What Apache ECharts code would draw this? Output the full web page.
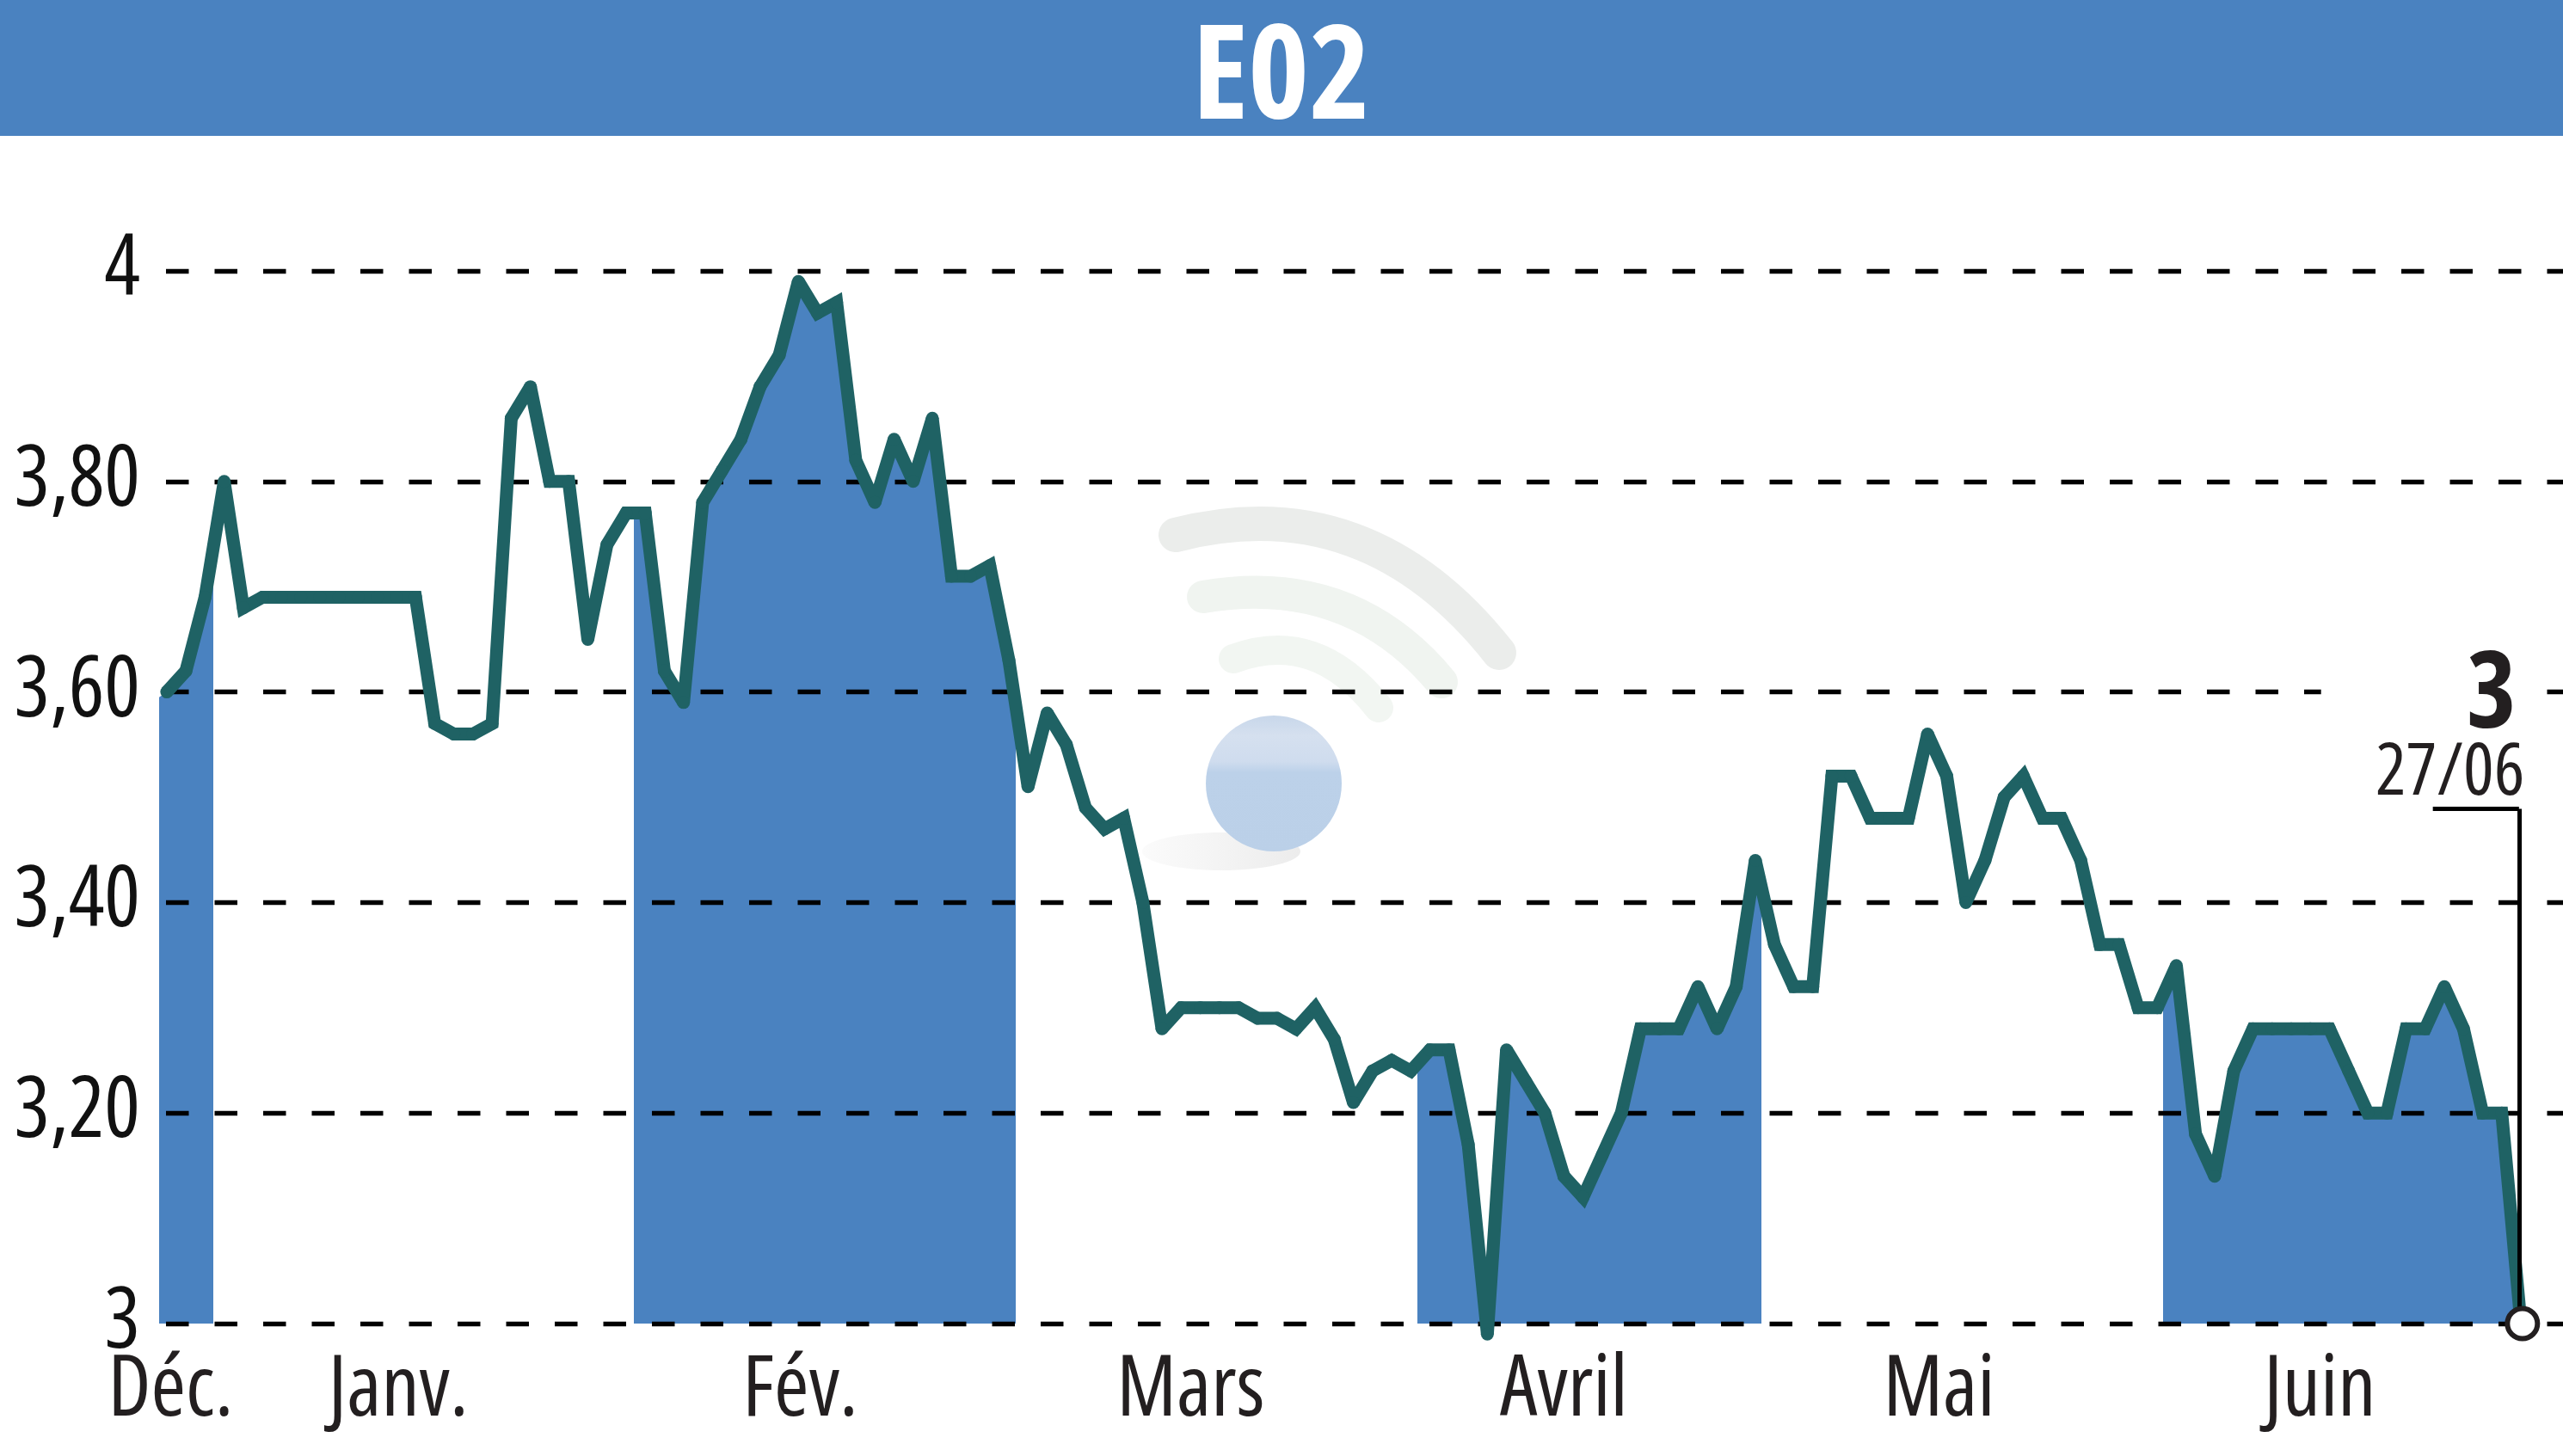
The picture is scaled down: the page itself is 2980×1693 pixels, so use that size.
<!DOCTYPE html>
<html>
<head>
<meta charset="utf-8">
<title>E02</title>
<style>
  html, body { margin: 0; padding: 0; background: #fff; }
  #chart { width: 2980px; height: 1693px; }
</style>
<script src="https://cdn.jsdelivr.net/npm/echarts@6/dist/echarts.min.js"></script>
</head>
<body>
<div id="chart"></div>
<script>
const chartTitle = 'E02';
const lastValueLabel = '3';
const lastDateLabel = '27/06';

// closing prices, one per session
const prices = [
  3.60, 3.62, 3.69, 3.80, 3.68, 3.69, 3.69, 3.69, 3.69, 3.69, 3.69, 3.69, 3.69, 3.69,
  3.57, 3.56, 3.56, 3.57, 3.86, 3.89, 3.80, 3.80, 3.65, 3.74, 3.77, 3.77, 3.62, 3.59,
  3.78, 3.81, 3.84, 3.89, 3.92, 3.99, 3.96, 3.97, 3.82, 3.78, 3.84, 3.80, 3.86, 3.71,
  3.71, 3.72, 3.63, 3.51, 3.58, 3.55, 3.49, 3.47, 3.48, 3.40, 3.28, 3.30, 3.30, 3.30,
  3.30, 3.29, 3.29, 3.28, 3.30, 3.27, 3.21, 3.24, 3.25, 3.24, 3.26, 3.26, 3.17, 2.99,
  3.26, 3.23, 3.20, 3.14, 3.12, 3.16, 3.20, 3.28, 3.28, 3.28, 3.32, 3.28, 3.32, 3.44,
  3.36, 3.32, 3.32, 3.52, 3.52, 3.48, 3.48, 3.48, 3.56, 3.52, 3.40, 3.44, 3.50, 3.52,
  3.48, 3.48, 3.44, 3.36, 3.36, 3.30, 3.30, 3.34, 3.18, 3.14, 3.24, 3.28, 3.28, 3.28,
  3.28, 3.28, 3.24, 3.20, 3.20, 3.28, 3.28, 3.32, 3.28, 3.20, 3.20, 3.00
];

// month names and the session index they sit under
const monthNames = ['Déc.', 'Janv.', 'Fév.', 'Mars', 'Avril', 'Mai', 'Juin'];
const monthTicks = [0.2, 12.1, 33.1, 53.5, 73, 92.6, 112.5];

// alternate month bands that get the blue fill, in session index
const bandStarts = [-1, 24.4, 65.35, 104.3];
const bandEnds = [2.43, 44.36, 83.3, 124];
const fillLead = [-0.4, 3.595];

const BLUE = '#4a82c0';
const GREEN = '#1f6264';
const TEXT = '#231f20';
const FONT = '"Open Sans", sans-serif';
const NARROW = 'condensed'; // goes into the canvas font shorthand

const lastIndex = prices.length - 1;
const lastPrice = prices[lastIndex];
const points = prices.map((v, i) => [i, v]);

const chart = echarts.init(document.getElementById('chart'), null, { renderer: 'canvas' });

chart.setOption({
  animation: false,
  backgroundColor: '#fff',
  title: {
    text: chartTitle,
    left: 'center',
    top: 14,
    textStyle: { color: '#fff', fontFamily: FONT, fontStyle: NARROW, fontWeight: 'bold', fontSize: 152 }
  },
  grid: { left: 185, right: 0, top: 315, bottom: 154, outerBoundsMode: 'none' },
  xAxis: {
    type: 'value',
    min: -0.4,
    max: 125.2,
    splitLine: { show: false },
    axisLine: { show: false },
    axisTick: { show: false },
    axisLabel: {
      customValues: monthTicks,
      formatter: v => monthNames[monthTicks.indexOf(v)],
      color: TEXT,
      fontFamily: FONT,
      fontStyle: NARROW,
      fontWeight: 'normal',
      fontSize: 98,
      margin: 30
    }
  },
  yAxis: {
    type: 'value',
    min: 3,
    max: 4,
    interval: 0.2,
    z: 2,
    axisLine: { show: false },
    axisTick: { show: false },
    splitLine: { lineStyle: { color: '#000', width: 5.4, type: [26.5, 30], dashOffset: -8 } },
    axisLabel: {
      formatter: v => (v === 3 || v === 4) ? String(v) : v.toFixed(2).replace('.', ','),
      color: '#111',
      fontFamily: FONT,
      fontStyle: NARROW,
      fontWeight: 'normal',
      fontSize: 98,
      margin: 22,
      padding: [14, 0, 0, 0]
    }
  },
  visualMap: {
    show: false,
    type: 'piecewise',
    seriesIndex: 0,
    dimension: 0,
    pieces: bandStarts.map((s, i) => ({ gte: s, lt: bandEnds[i], color: BLUE })),
    outOfRange: { color: 'rgba(0,0,0,0)' }
  },
  series: [
    {
      type: 'line',
      z: 1,
      clip: false,
      silent: true,
      symbol: 'none',
      lineStyle: { width: 0 },
      areaStyle: { opacity: 1 },
      data: [fillLead].concat(points)
    },
    {
      type: 'line',
      z: 3,
      clip: false,
      silent: true,
      symbol: 'circle',
      symbolSize: 15,
      showAllSymbol: true,
      color: GREEN,
      lineStyle: { color: GREEN, width: 15, join: 'miter', miterLimit: 2 },
      data: points,
      markLine: {
        silent: true,
        symbol: 'none',
        label: { show: false },
        lineStyle: { color: '#000', width: 5, type: 'solid' },
        data: [
          [{ coord: [lastIndex - 4.6, 3.489] }, { coord: [lastIndex - 0.1, 3.489] }],
          [{ coord: [lastIndex - 0.1, 3.489] }, { coord: [lastIndex - 0.1, lastPrice] }]
        ]
      },
      markPoint: {
        silent: true,
        symbol: 'circle',
        symbolSize: 1,
        itemStyle: { color: 'rgba(0,0,0,0)' },
        data: [
          {
            coord: [lastIndex - 5, 3.595],
            value: lastValueLabel,
            label: {
              formatter: lastValueLabel,
              color: TEXT,
              fontFamily: FONT,
              fontStyle: NARROW,
              fontWeight: 'bold',
              fontSize: 124,
              backgroundColor: '#fff',
              padding: [0, 15, 0, 169]
            }
          },
          {
            coord: [lastIndex - 3.7, 3.522],
            value: lastDateLabel,
            label: { formatter: lastDateLabel, color: TEXT, fontFamily: FONT, fontStyle: NARROW, fontWeight: 'normal', fontSize: 84 }
          }
        ]
      }
    },
    {
      // white ring on the last close
      type: 'scatter',
      z: 6,
      clip: false,
      silent: true,
      symbolSize: 35,
      itemStyle: { color: '#fff', borderColor: TEXT, borderWidth: 6, opacity: 1 },
      data: [[lastIndex + 0.08, lastPrice]]
    }
  ],
  graphic: [
    { type: 'rect', z: -1, shape: { x: 0, y: 0, width: 2980, height: 158 }, style: { fill: BLUE } },
    // watermark behind the plot
    { type: 'bezierCurve', z: -1, shape: { x1: 1367, y1: 622, cpx1: 1590, cpy1: 565, x2: 1743, y2: 759 }, style: { stroke: '#ebedeb', lineWidth: 40, lineCap: 'round', fill: 'none' } },
    { type: 'bezierCurve', z: -1, shape: { x1: 1399, y1: 694, cpx1: 1570, cpy1: 665, x2: 1676, y2: 793 }, style: { stroke: '#f0f4f0', lineWidth: 38, lineCap: 'round', fill: 'none' } },
    { type: 'bezierCurve', z: -1, shape: { x1: 1434, y1: 766, cpx1: 1530, cpy1: 730, x2: 1603, y2: 823 }, style: { stroke: '#f2f6f2', lineWidth: 34, lineCap: 'round', fill: 'none' } },
    {
      type: 'ellipse',
      z: -1,
      shape: { cx: 1420, cy: 990, rx: 92, ry: 22 },
      style: {
        fill: new echarts.graphic.LinearGradient(0, 0, 1, 0, [
          { offset: 0, color: '#fbfbfb' },
          { offset: 1, color: '#ececec' }
        ])
      }
    },
    {
      type: 'circle',
      z: -1,
      shape: { cx: 1481, cy: 911, r: 79 },
      style: {
        fill: new echarts.graphic.LinearGradient(0, 0, 0, 1, [
          { offset: 0, color: '#c8d7ea' },
          { offset: 0.15, color: '#d5e0ef' },
          { offset: 0.34, color: '#cfdcee' },
          { offset: 0.42, color: '#bcd1e9' },
          { offset: 1, color: '#bbd0e8' }
        ])
      }
    }
  ]
});
</script>
</body>
</html>
